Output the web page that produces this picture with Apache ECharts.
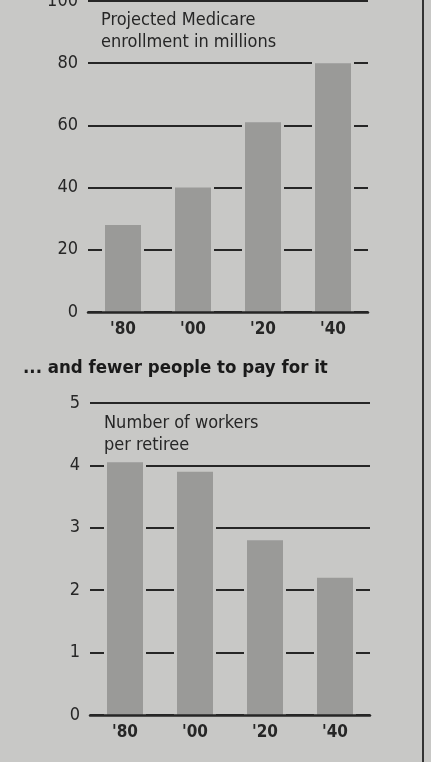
<!DOCTYPE html>
<html>
<head>
<meta charset="utf-8">
<script src="https://cdn.jsdelivr.net/npm/echarts@6/dist/echarts.min.js"></script>
<style>
    html, body {margin:0; padding:0; background:#c8c8c6;}
    #main {width:431px; height:762px;}
</style>
</head>
<body>
<div id="main"></div>
<script>
// years shown under both charts
var years = ["'80", "'00", "'20", "'40"];
// projected Medicare enrollment, millions
var enrollment = [28, 40, 61, 80];
// workers per retiree
var workers = [4.05, 3.9, 2.8, 2.2];

var font = "'Liberation Sans Narrow', 'DejaVu Sans Condensed', sans-serif";
var bg = '#c8c8c6';
var ink = '#262626';
var barColor = '#9a9a98';

function yAxisOf(gridIndex, max, interval){
    return {
        gridIndex: gridIndex, type:'value', min:0, max:max, interval:interval,
        axisLine:{show:false}, axisTick:{show:false},
        axisLabel:{color:ink, fontFamily:font, fontSize:18, margin:10},
        splitLine:{lineStyle:{color:ink, width:2}}
    };
}
function xAxisOf(gridIndex, margin){
    return {
        gridIndex: gridIndex, type:'category', data:years, z:10,
        axisLine:{lineStyle:{color:ink, width:2.5}},
        axisTick:{show:false},
        axisLabel:{color:ink, fontFamily:font, fontSize:17, fontWeight:'bold', margin:margin}
    };
}
// a slightly bigger background-coloured block sits behind each bar,
// so the grid lines break a little before and after every bar
function barsOf(idx, data){
    return [{
        type:'custom', xAxisIndex:idx, yAxisIndex:idx, z:1, silent:true,
        data: data.map(function(v, i){ return [i, v]; }),
        renderItem: function(params, api){
            var top = api.coord([api.value(0), api.value(1)]);
            var base = api.coord([api.value(0), 0]);
            return {type:'rect', shape:{x:top[0]-21, y:top[1]-3, width:42, height:base[1]-top[1]+3},
                    style:{fill:bg}};
        }
    }, {
        type:'bar', xAxisIndex:idx, yAxisIndex:idx, data:data,
        barWidth:36, silent:true,
        itemStyle:{color:barColor}
    }];
}

var option = {
    backgroundColor: bg,
    animation: false,
    title: [
        {text:'Projected Medicare\nenrollment in millions', left:96, top:4,
         textStyle:{color:ink, fontFamily:font, fontSize:18, fontWeight:'normal', lineHeight:22}},
        {text:'... and fewer people to pay for it', left:18, top:354,
         textStyle:{color:'#1a1a1a', fontFamily:font, fontSize:18.5, fontWeight:'bold'}},
        {text:'Number of workers\nper retiree', left:99, top:407,
         textStyle:{color:ink, fontFamily:font, fontSize:18, fontWeight:'normal', lineHeight:22}}
    ],
    grid: [
        {left:88, right:63, top:1, height:311, outerBoundsMode:'none'},
        {left:90, right:61, top:403, height:312, outerBoundsMode:'none'}
    ],
    xAxis: [xAxisOf(0, 9), xAxisOf(1, 9)],
    yAxis: [yAxisOf(0, 100, 20), yAxisOf(1, 5, 1)],
    series: barsOf(0, enrollment).concat(barsOf(1, workers)),
    graphic: [
        {type:'line', shape:{x1:423, y1:0, x2:423, y2:762}, style:{stroke:'#333', lineWidth:2}}
    ]
};
echarts.init(document.getElementById('main')).setOption(option);
</script>
</body>
</html>
